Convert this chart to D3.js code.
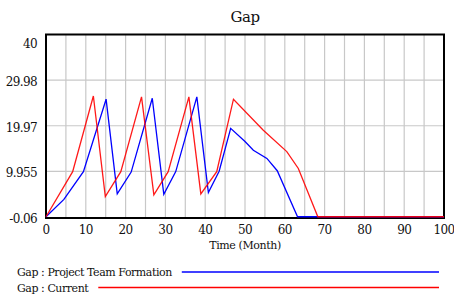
<!DOCTYPE html>
<html>
<head>
<meta charset="utf-8">
<script src="https://cdn.jsdelivr.net/npm/d3@7"></script>
<style>
  body { margin: 0; background: #fff; }
</style>
</head>
<body>
<div id="chart"></div>
<script>
// Time (Month) and value pairs
var teamTime  = [0, 4.5, 9.4, 15.1, 17.9, 21.4, 26.7, 29.6, 32.6, 37.9, 40.8, 43.5, 46.4, 50, 52.1, 55.5, 58.1, 63.2, 100];
var teamGap   = [0, 3.8, 9.9, 25.8, 5.0, 9.8, 26.0, 4.9, 9.9, 26.3, 5.3, 10.0, 19.4, 16.5, 14.6, 12.8, 10.1, 0, 0];
var curTime   = [0, 6.7, 11.9, 14.9, 18.8, 24.0, 27.1, 30.7, 35.9, 38.9, 42.9, 47.1, 54.6, 60.5, 63.4, 68.3, 100];
var curGap    = [0, 9.9, 26.5, 4.4, 9.9, 26.3, 4.8, 9.9, 26.3, 5.0, 9.9, 25.8, 19.0, 14.3, 10.6, 0, 0];
var xTicks    = [0, 10, 20, 30, 40, 50, 60, 70, 80, 90, 100];
var yTicks    = [-0.06, 9.955, 19.97, 29.98, 40];
var yLabels   = ["-0.06", "9.955", "19.97", "29.98", "40"];
var seriesNames = ["Gap : Project Team Formation", "Gap : Current"];

var W = 454, H = 296;
var m = {left: 46, right: 10, top: 34.5, bottom: 79};
var serif = "'DejaVu Serif', serif";

var svg = d3.select("#chart").append("svg")
  .attr("width", W).attr("height", H)
  .style("font-family", serif);

var x = d3.scaleLinear().domain([0, 100]).range([m.left, W - m.right]);
var y = d3.scaleLinear().domain([-0.06, 40]).range([H - m.bottom, m.top]);

// grid
svg.append("g").selectAll("line").data(d3.range(5, 100, 5)).join("line")
  .attr("x1", d => x(d)).attr("x2", d => x(d))
  .attr("y1", y(40)).attr("y2", y(-0.06))
  .attr("stroke", "#c8c8c8").attr("stroke-width", 1.2);
svg.append("g").selectAll("line").data(yTicks.slice(1, 4)).join("line")
  .attr("x1", x(0)).attr("x2", x(100))
  .attr("y1", d => y(d)).attr("y2", d => y(d))
  .attr("stroke", "#c8c8c8").attr("stroke-width", 1.2);

// frame
svg.append("rect")
  .attr("x", x(0)).attr("y", y(40))
  .attr("width", x(100) - x(0)).attr("height", y(-0.06) - y(40) + 1)
  .attr("fill", "none").attr("stroke", "#000").attr("stroke-width", 2);

// series
var line = d3.line().x(d => x(d[0])).y(d => y(d[1]));
svg.append("path").datum(d3.zip(teamTime, teamGap))
  .attr("d", line).attr("fill", "none").attr("stroke", "#0000ff").attr("stroke-width", 1.3);
svg.append("path").datum(d3.zip(curTime, curGap))
  .attr("d", line).attr("fill", "none").attr("stroke", "#ff0000").attr("stroke-width", 1.3)
  .attr("stroke-opacity", 0.9);

// y labels
svg.append("g").selectAll("text").data(yTicks).join("text")
  .attr("x", 37).attr("y", (d, i) => i == 4 ? y(d) + 13 : y(d) + 6)
  .attr("text-anchor", "end").attr("font-size", 12).attr("letter-spacing", -0.6).attr("fill", "#111")
  .text((d, i) => yLabels[i]);

// x labels
svg.append("g").selectAll("text").data(xTicks).join("text")
  .attr("x", d => x(d)).attr("y", 234)
  .attr("text-anchor", "middle").attr("font-size", 12).attr("letter-spacing", -0.6).attr("fill", "#111")
  .text(d => d);

svg.append("text").attr("x", 245).attr("y", 249)
  .attr("text-anchor", "middle").attr("font-size", 11).attr("letter-spacing", -0.4).attr("fill", "#111").text("Time (Month)");

svg.append("text").attr("x", 245).attr("y", 22)
  .attr("text-anchor", "middle").attr("font-size", 15).attr("letter-spacing", -0.5).attr("fill", "#111").text("Gap");

// legend
var legendCol = ["#0000ff", "#ff0000"];
var legendY = [272, 287.5];
var lg = svg.append("g");
seriesNames.forEach(function(name, i) {
  var t = lg.append("text").attr("x", 17).attr("y", legendY[i] + 4)
    .attr("font-size", 11).attr("letter-spacing", -0.45).attr("fill", "#111").text(name);
  var w = t.node().getComputedTextLength();
  lg.append("line")
    .attr("x1", 17 + w + 10).attr("x2", 439)
    .attr("y1", legendY[i]).attr("y2", legendY[i])
    .style("stroke", legendCol[i]).attr("stroke-width", 1.3);
});
</script>
</body>
</html>
